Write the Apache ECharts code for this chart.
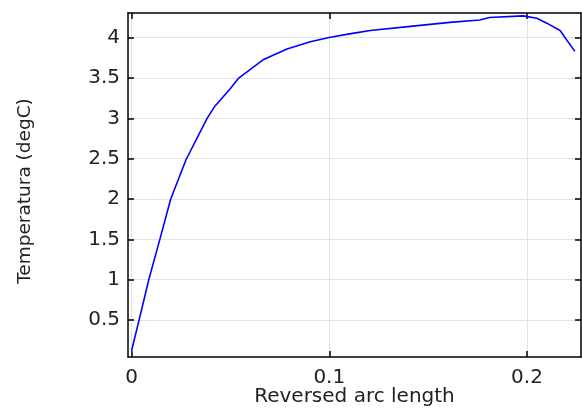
<!DOCTYPE html>
<html>
<head>
<meta charset="utf-8">
<script src="https://cdn.jsdelivr.net/npm/echarts@6/dist/echarts.min.js"></script>
<style>
html,body{margin:0;padding:0;background:#fff;}
#chart{width:582px;height:408px;}
</style>
</head>
<body>
<div id="chart"></div>
<script>
const xValues = [0, 0.0037, 0.0087, 0.0143, 0.0198, 0.0276, 0.0382, 0.0418, 0.05, 0.0542, 0.0668, 0.0786, 0.0904, 0.1005, 0.111, 0.1207, 0.141, 0.161, 0.176, 0.181, 0.198, 0.205, 0.21, 0.2167, 0.2242];
const yValues = [0.12, 0.49, 1.0, 1.5, 2.0, 2.49, 3.0, 3.14, 3.37, 3.5, 3.73, 3.86, 3.95, 4.005, 4.05, 4.09, 4.14, 4.19, 4.22, 4.25, 4.27, 4.24, 4.18, 4.09, 3.83];
const xTicks = [0, 0.1, 0.2];
const yTicks = [0.5, 1, 1.5, 2, 2.5, 3, 3.5, 4];
const xLabel = 'Reversed arc length';
const yLabel = 'Temperatura (degC)';

const FONT = 'DejaVu Sans';
const FS = 20;
const TXT = '#222';
const xMin = -0.0018, xMax = 0.2273;
const yMin = 0.042, yMax = 4.306;

const axisLine = {show: true, onZero: false, lineStyle: {color: '#000', width: 1.5}};
const tick = (vals) => ({show: true, inside: true, length: 6, customValues: vals, lineStyle: {color: '#000', width: 1.5}});

const chart = echarts.init(document.getElementById('chart'), null, {renderer: 'canvas'});
chart.setOption({
  animation: false,
  backgroundColor: '#fff',
  grid: {left: 128, top: 13, right: 1, bottom: 51, containLabel: false, outerBoundsMode: 'none'},
  xAxis: [{
    type: 'value', position: 'bottom', min: xMin, max: xMax,
    axisLine: axisLine, axisTick: tick(xTicks),
    axisLabel: {show: true, customValues: xTicks, margin: 11, color: TXT, fontFamily: FONT, fontSize: FS},
    splitLine: {show: true, lineStyle: {color: '#e2e2e2', width: 1}},
    name: xLabel, nameLocation: 'middle', nameGap: 30, nameMoveOverlap: false,
    nameTextStyle: {color: TXT, fontFamily: FONT, fontSize: FS}
  }, {
    type: 'value', position: 'top', min: xMin, max: xMax,
    axisLine: axisLine, axisTick: tick(xTicks),
    axisLabel: {show: false, customValues: xTicks}, splitLine: {show: false}
  }],
  yAxis: [{
    type: 'value', position: 'left', min: yMin, max: yMax,
    axisLine: axisLine, axisTick: tick(yTicks),
    axisLabel: {show: true, customValues: yTicks, margin: 8, color: TXT, fontFamily: FONT, fontSize: FS},
    splitLine: {show: true, lineStyle: {color: '#e2e2e2', width: 1}},
    name: yLabel, nameLocation: 'middle', nameGap: 93, nameRotate: 90, nameMoveOverlap: false,
    nameTextStyle: {color: TXT, fontFamily: FONT, fontSize: 18.5, padding: [0, 12, 0, 0]}
  }, {
    type: 'value', position: 'right', min: yMin, max: yMax,
    axisLine: axisLine, axisTick: tick(yTicks),
    axisLabel: {show: false, customValues: yTicks}, splitLine: {show: false}
  }],
  series: [{
    type: 'line', xAxisIndex: 0, yAxisIndex: 0,
    data: xValues.map((x, i) => [x, yValues[i]]),
    showSymbol: false, symbol: 'none',
    lineStyle: {color: '#0000ff', width: 1.6},
    z: 3
  }]
});
</script>
</body>
</html>
